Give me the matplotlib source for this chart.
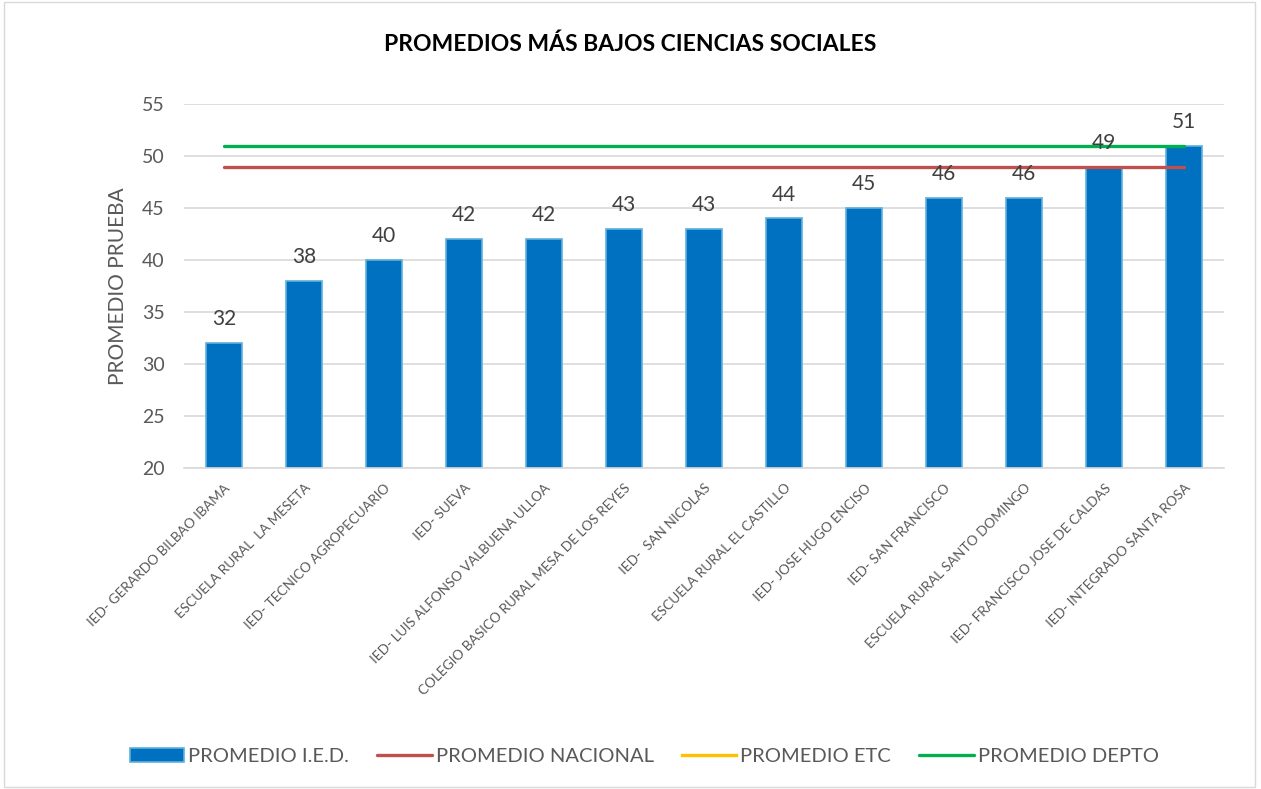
import matplotlib.pyplot as plt
import numpy as np
from matplotlib.patches import Rectangle

plt.rcParams['font.family'] = ['Lato', 'DejaVu Sans']

instituciones = [
    'IED- GERARDO BILBAO IBAMA',
    'ESCUELA RURAL  LA MESETA',
    'IED- TECNICO AGROPECUARIO',
    'IED- SUEVA',
    'IED- LUIS ALFONSO VALBUENA ULLOA',
    'COLEGIO BASICO RURAL MESA DE LOS REYES',
    'IED-  SAN NICOLAS',
    'ESCUELA RURAL EL CASTILLO',
    'IED- JOSE HUGO ENCISO',
    'IED- SAN FRANCISCO',
    'ESCUELA RURAL SANTO DOMINGO',
    'IED- FRANCISCO JOSE DE CALDAS',
    'IED- INTEGRADO SANTA ROSA',
]
promedio_ied = [32, 38, 40, 42, 42, 43, 43, 44, 45, 46, 46, 49, 51]
promedio_nacional = [49] * 13
promedio_etc = [np.nan] * 13
promedio_depto = [51] * 13

gris = '#595959'

fig = plt.figure(figsize=(12.61, 7.89), dpi=100)
ax = fig.add_axes([0.146, 0.407, 0.825, 0.461])

x = np.arange(len(instituciones))
barras = ax.bar(x, promedio_ied, width=0.45, color='#0070C0', edgecolor='#5FB0DA',
                linewidth=1.2, zorder=2, label='PROMEDIO I.E.D.')
l_nac, = ax.plot(x, promedio_nacional, color='#C0504D', lw=2.4, solid_capstyle='round',
                 zorder=3, label='PROMEDIO NACIONAL')
l_etc, = ax.plot(x, promedio_etc, color='#FFC000', lw=2.4, zorder=3, label='PROMEDIO ETC')
l_dep, = ax.plot(x, promedio_depto, color='#00B050', lw=2.4, solid_capstyle='round',
                 zorder=3, label='PROMEDIO DEPTO')

for xi, v in zip(x, promedio_ied):
    ax.annotate(str(v), (xi, v), xytext=(0, 10), textcoords='offset points',
                ha='center', va='bottom', fontsize=15, color='#404040', zorder=4)

ax.set_xlim(-0.5, len(instituciones) - 0.5)
ax.set_ylim(20, 55)
ax.set_yticks(range(20, 56, 5))
ax.yaxis.grid(True, color='#D9D9D9', lw=1.2, zorder=0)
ax.set_axisbelow(True)
for s in ['top', 'right', 'left']:
    ax.spines[s].set_visible(False)
ax.spines['bottom'].set_color('#D9D9D9')
ax.spines['bottom'].set_linewidth(1.2)
ax.tick_params(axis='both', length=0, colors=gris)
ax.tick_params(axis='y', labelsize=14, pad=14)
ax.set_xticks(x)
ax.set_xticklabels(instituciones, rotation=45, ha='right', rotation_mode='anchor',
                   fontsize=9.8, color=gris)
ax.tick_params(axis='x', pad=10)
ax.set_ylabel('PROMEDIO PRUEBA', fontsize=15, color=gris, labelpad=10)

fig.text(0.5, 0.944, 'PROMEDIOS MÁS BAJOS CIENCIAS SOCIALES', ha='center', va='center',
         fontsize=16.5, fontweight='bold', color='black')

fig.legend([barras, l_nac, l_etc, l_dep],
           ['PROMEDIO I.E.D.', 'PROMEDIO NACIONAL', 'PROMEDIO ETC', 'PROMEDIO DEPTO'],
           loc='center', bbox_to_anchor=(0.511, 0.041), ncol=4, frameon=False,
           fontsize=14.5, handlelength=2.7, handletextpad=0.2, columnspacing=1.4,
           labelcolor=gris)

fig.patches.append(Rectangle((0.003, 0.003), 0.992, 0.994, transform=fig.transFigure,
                             fill=False, edgecolor='#D9D9D9', lw=1))

fig.savefig('out.png', dpi=100)
